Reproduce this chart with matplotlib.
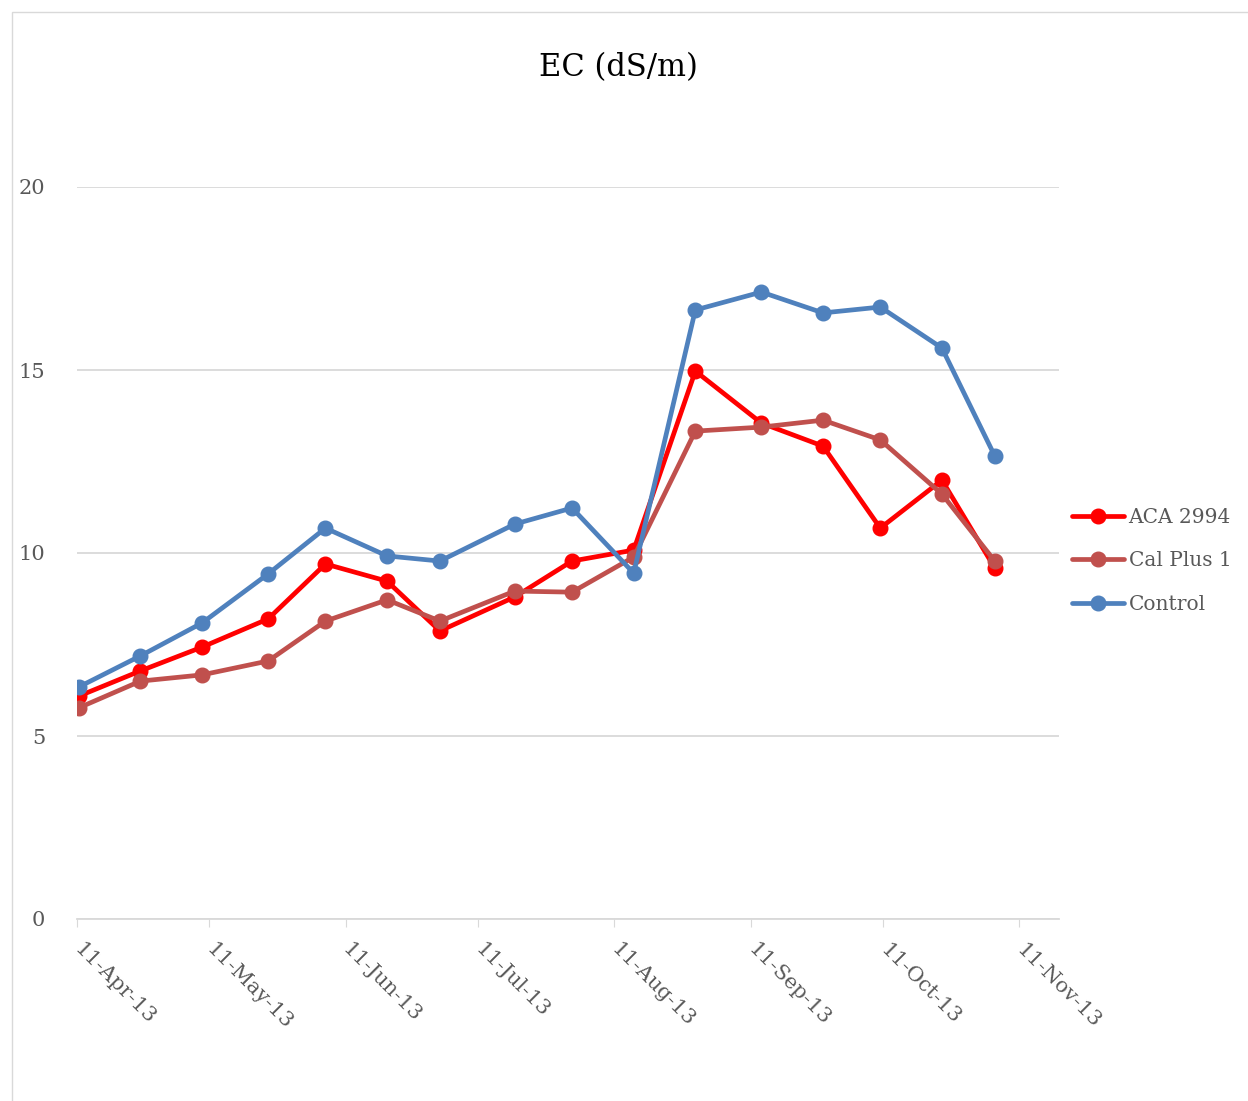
import numpy as np
import matplotlib.pyplot as plt
import matplotlib.dates as mdates
from matplotlib.patches import Rectangle

plt.rcParams['font.family'] = ['DejaVu Serif']

dates = np.array(['2013-04-11', '2013-04-25', '2013-05-09', '2013-05-24',
                  '2013-06-06', '2013-06-20', '2013-07-02', '2013-07-19',
                  '2013-08-01', '2013-08-15', '2013-08-29', '2013-09-13',
                  '2013-09-27', '2013-10-10', '2013-10-24', '2013-11-05'],
                 dtype='datetime64[D]')
aca = [6.09, 6.78, 7.43, 8.20, 9.70, 9.23, 7.87, 8.80,
       9.78, 10.08, 14.97, 13.55, 12.92, 10.68, 11.99, 9.59]
calplus = [5.77, 6.50, 6.67, 7.05, 8.14, 8.72, 8.14, 8.96,
           8.93, 9.89, 13.33, 13.44, 13.63, 13.09, 11.61, 9.78]
control = [6.34, 7.19, 8.09, 9.43, 10.68, 9.92, 9.78, 10.79,
           11.23, 9.45, 16.64, 17.13, 16.56, 16.72, 15.60, 12.65]

series = [('ACA 2994', aca, '#FF0000'),
          ('Cal Plus 1', calplus, '#C0504D'),
          ('Control', control, '#4F81BD')]
ticks = np.array(['2013-04-11', '2013-05-11', '2013-06-11', '2013-07-11',
                  '2013-08-11', '2013-09-11', '2013-10-11', '2013-11-11'],
                 dtype='datetime64[D]')

W, H = 1248, 1101
fig = plt.figure(figsize=(W / 100, H / 100), dpi=100)
fig.patch.set_facecolor('white')
fig.patches.append(Rectangle((12 / W, -0.1), 1.2, 1 - 12 / H + 0.1,
                             transform=fig.transFigure, fill=False,
                             edgecolor='#D9D9D9', linewidth=1))

ax = fig.add_axes([77 / W, 1 - 919 / H, (1059 - 77) / W, (919 - 187) / H])

# Excel puts the points about half a day to the right of the date
xdates = (dates.astype('datetime64[h]') + np.timedelta64(10, 'h')).astype(object)
for name, vals, col in series:
    ax.plot(xdates, vals, color=col,
            linewidth=3.4, marker='o', markersize=10.5, label=name,
            solid_capstyle='round', solid_joinstyle='round')

x0 = np.datetime64('2013-04-11').astype(object)
x1 = (np.datetime64('2013-04-11') + np.timedelta64(223, 'D')).astype(object)
ax.set_xlim(x0, x1)
ax.set_ylim(0, 20)
ax.set_yticks([0, 5, 10, 15, 20])
ax.yaxis.grid(True, color='#D9D9D9', linewidth=1.3)
ax.set_axisbelow(True)
ax.set_xticks(ticks.astype(object))
ax.xaxis.set_major_formatter(mdates.DateFormatter('%d-%b-%y'))
for lab in ax.get_xticklabels():
    lab.set_rotation(-45)
    lab.set_ha('left')
    lab.set_va('center')
    lab.set_rotation_mode('anchor')
ax.tick_params(axis='x', direction='out', length=6, color='#D9D9D9',
               labelsize=15, labelcolor='#595959', pad=14)
ax.tick_params(axis='y', length=0, labelsize=15, labelcolor='#595959', pad=23)
for sp in ['top', 'right', 'left']:
    ax.spines[sp].set_visible(False)
ax.spines['bottom'].set_color('#D9D9D9')
ax.spines['bottom'].set_linewidth(1.3)

fig.text(618 / W, 1 - 68 / H, 'EC (dS/m)', ha='center', va='center',
         fontsize=22, color='black')

ax.legend(loc='center left', bbox_to_anchor=(1054 / W, 1 - 561 / H),
          bbox_transform=fig.transFigure, frameon=False, fontsize=14.5,
          handlelength=2.6, handletextpad=0.2, labelspacing=1.2,
          labelcolor='#595959')

fig.savefig('out.png', dpi=100, facecolor='white')
plt.close(fig)
